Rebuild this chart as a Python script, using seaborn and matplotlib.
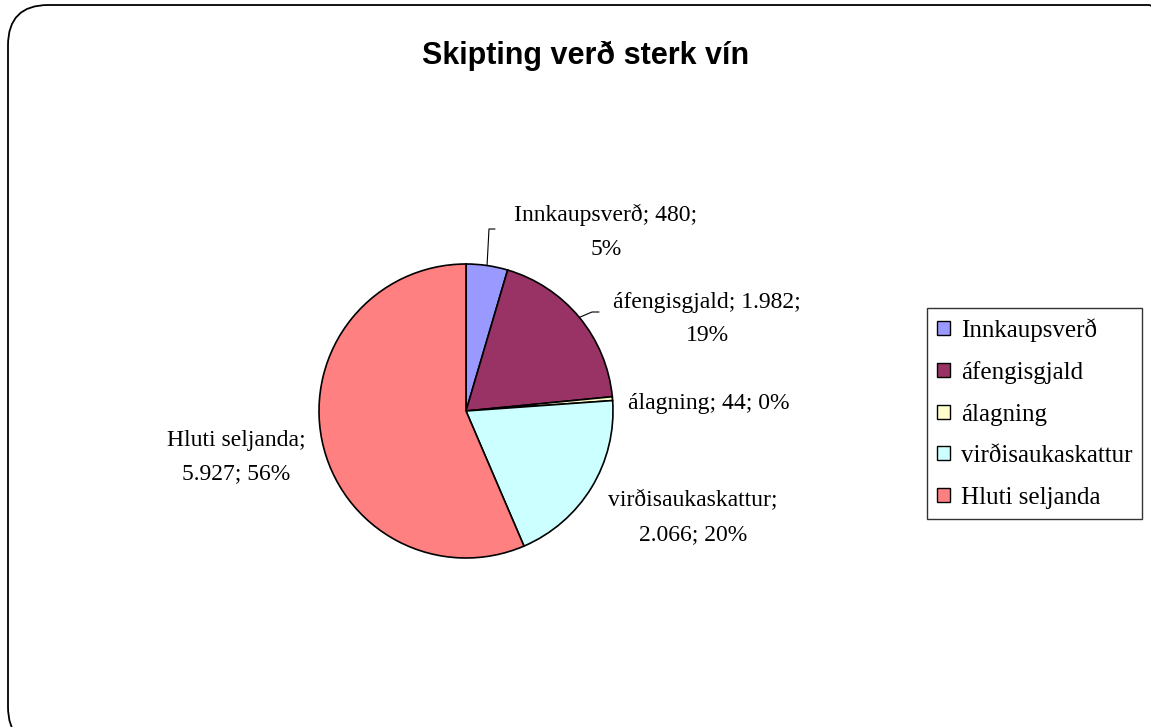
import numpy as np
import matplotlib
matplotlib.use("Agg")
import matplotlib.pyplot as plt
from matplotlib.patches import FancyBboxPatch, Patch
import seaborn as sns

# ---- data ----
categories = ["Innkaupsverð", "áfengisgjald", "álagning", "virðisaukaskattur", "Hluti seljanda"]
values = [480, 1982, 44, 2066, 5927]
value_labels = ["480", "1.982", "44", "2.066", "5.927"]
percent_labels = ["5%", "19%", "0%", "20%", "56%"]
colors = ["#9999FF", "#993366", "#FFFFCC", "#CCFFFF", "#FF8080"]
title = "Skipting verð sterk vín"

sns.set_theme(style="white")
plt.rcParams["font.family"] = ["Liberation Serif", "DejaVu Serif"]
plt.rcParams["text.color"] = "black"

W, H = 1151, 727
fig = plt.figure(figsize=(W / 100, H / 100), dpi=100)
fig.patch.set_facecolor("white")

# rounded outer border
border = FancyBboxPatch((8 / W, -20 / H), (W + 30) / W, (H + 20 - 5) / H,
                        boxstyle="round,pad=0,rounding_size=0.035",
                        transform=fig.transFigure, facecolor="none",
                        edgecolor="black", linewidth=1.3, mutation_aspect=W / H)
fig.patches.append(border)

fig.text(586 / W, 1 - 56 / H, title, ha="center", va="center", color="black",
         fontsize=22, fontweight="bold", family=["Liberation Sans", "DejaVu Sans"])

# pie axes: centre (466,411) px, radius 147 px
R = 147.0
half = 300
cx, cy = 466, 411
ax = fig.add_axes([(cx - half) / W, (H - cy - half) / H, 2 * half / W, 2 * half / H])
L = half / R

wedges, _ = ax.pie(values, colors=colors, startangle=90, counterclock=False,
                   radius=1.0, wedgeprops=dict(edgecolor="black", linewidth=1.2),
                   normalize=True)
ax.set_xlim(-L, L)
ax.set_ylim(-L, L)
ax.set_aspect("auto")
ax.axis("off")

def px(x, y):
    return (x - cx) / R, (cy - y) / R

label_texts = [
    f"{categories[0]}; {value_labels[0]};\n{percent_labels[0]}",
    f"{categories[1]}; {value_labels[1]};\n{percent_labels[1]}",
    f"{categories[2]}; {value_labels[2]}; {percent_labels[2]}",
    f"{categories[3]};\n{value_labels[3]}; {percent_labels[3]}",
    f"{categories[4]};\n{value_labels[4]}; {percent_labels[4]}",
]
label_pos = [px(606, 232), px(707, 319), px(709, 404), px(693, 518), px(236, 457)]
for t, (x, y) in zip(label_texts, label_pos):
    ax.text(x, y, t, ha="center", va="center", fontsize=17, linespacing=1.8,
            color="black", clip_on=False)

# leader lines for the two top slices
total = float(sum(values))
cum = np.cumsum([0] + values)
mids = [(cum[i] + values[i] / 2) / total * 2 * np.pi for i in range(len(values))]
m0 = mids[0]
p0 = (np.sin(m0), np.cos(m0))
e0 = px(489, 229)
ax.plot([p0[0], e0[0], e0[0] + 6 / R], [p0[1], e0[1], e0[1]], color="black", lw=0.8)
m1 = mids[1]
p1 = (np.sin(m1), np.cos(m1))
e1 = px(592, 312)
ax.plot([p1[0], e1[0], e1[0] + 7 / R], [p1[1], e1[1], e1[1]], color="black", lw=0.8)

# legend
handles = [Patch(facecolor=c, edgecolor="black", linewidth=1.0) for c in colors]
leg = fig.legend(handles, categories, loc="upper left",
                 bbox_to_anchor=(927 / W, 1 - 308 / H), borderaxespad=0,
                 fontsize=18, frameon=True, fancybox=False, edgecolor="black",
                 handlelength=0.5, handleheight=0.5, handletextpad=0.45,
                 labelspacing=0.78, borderpad=0.4)
leg.get_frame().set_linewidth(1.0)
for txt in leg.get_texts():
    txt.set_color("black")

fig.savefig("out.png", dpi=100, facecolor="white")
